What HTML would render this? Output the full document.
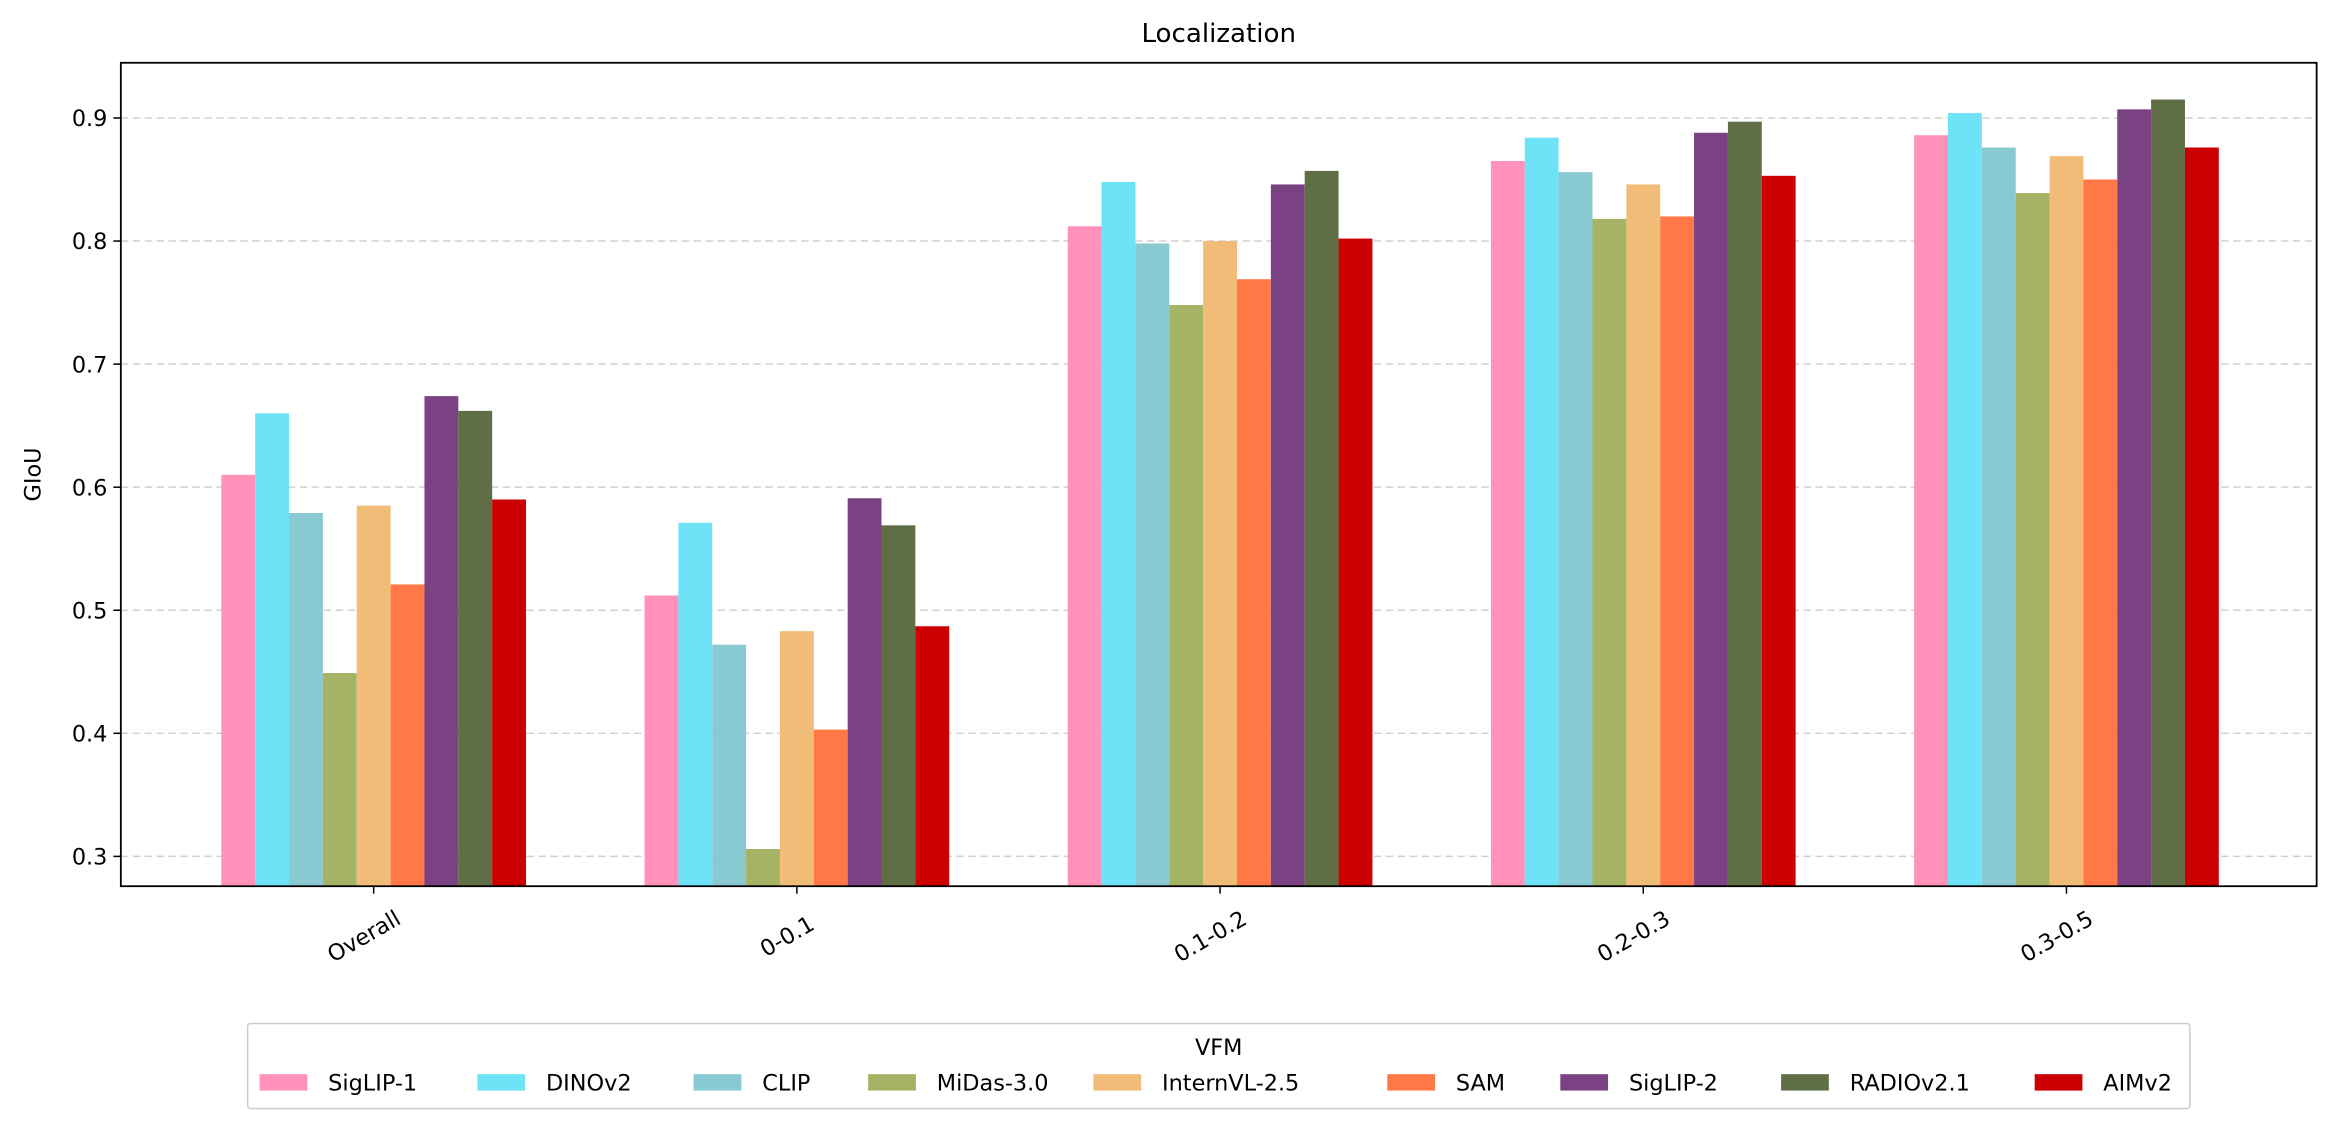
<!DOCTYPE html>
<html><head><meta charset="utf-8"><style>
html,body{margin:0;padding:0;background:#fff;}
svg{display:block;font-family:"DejaVu Sans","Liberation Sans",sans-serif;}
</style></head><body>
<svg id="chart" width="2339" height="1128" viewBox="0 0 1568 756" xmlns="http://www.w3.org/2000/svg">
<rect width="1568" height="756" fill="#fff"/>
<text x="817" y="28" font-size="17.5" text-anchor="middle">Localization</text>
<text transform="translate(27,318) rotate(-90)" font-size="15" text-anchor="middle">GIoU</text>
<g id="grid"></g><g id="bars"></g><g id="axes"></g>
<g id="legend">
<rect x="166" y="686" width="1302" height="57" fill="#fff" stroke="#ccc" stroke-width="1" rx="2"/>
<text x="817" y="707" font-size="15" text-anchor="middle">VFM</text>
</g>
</svg>
<script>
const categories=["Overall","0-0.1","0.1-0.2","0.2-0.3","0.3-0.5"];
const models=["SigLIP-1","DINOv2","CLIP","MiDas-3.0","InternVL-2.5","SAM","SigLIP-2","RADIOv2.1","AIMv2"];
const colors=["#ff91bb","#6ee2f6","#89c9d2","#a4b464","#f1bc78","#ff7845","#7b4283","#5f6e45","#cc0000"];
const siglip1=[0.610,0.512,0.812,0.865,0.886];
const dinov2=[0.660,0.571,0.848,0.884,0.904];
const clip=[0.579,0.472,0.798,0.856,0.876];
const midas=[0.449,0.306,0.748,0.818,0.839];
const internvl=[0.585,0.483,0.800,0.846,0.869];
const sam=[0.521,0.403,0.769,0.820,0.850];
const siglip2=[0.674,0.591,0.846,0.888,0.907];
const radio=[0.662,0.569,0.857,0.897,0.915];
const aimv2=[0.590,0.487,0.802,0.853,0.876];
const series=[siglip1,dinov2,clip,midas,internvl,sam,siglip2,radio,aimv2];
const yTicks=[0.3,0.4,0.5,0.6,0.7,0.8,0.9];
const legendX=[174,320,465,582,733,930,1046,1194,1364];

const NS="http://www.w3.org/2000/svg";
const L=81,R=1553,T=42,B=594;
const yScale=v=>79+(0.9-v)*825;
const gap=283.7;
const xScale=i=>250.5+i*gap;
const bw=gap*0.08;
function mk(tag,attrs,parent){const e=document.createElementNS(NS,tag);for(const k in attrs)e.setAttribute(k,attrs[k]);parent.appendChild(e);return e;}
const grid=document.getElementById('grid'),bars=document.getElementById('bars'),axes=document.getElementById('axes'),legend=document.getElementById('legend');
yTicks.forEach(t=>{
  const y=yScale(t);
  const g=mk('line',{x1:L,x2:R,y1:y,y2:y,stroke:'#d0d0d0','stroke-dasharray':'5,3','stroke-width':1},grid);
  
  
  const tk=mk('line',{x1:L-5,x2:L,y1:y,y2:y,stroke:'#000','stroke-width':1},axes);
  
  
  const lb=mk('text',{x:L-9,y:y+5.5,'font-size':15,'text-anchor':'end'},axes);
  lb.textContent=t.toFixed(1);
  
  
});
series.forEach((vals,s)=>{
  vals.forEach((v,i)=>{
    const x=xScale(i)+(s-4.5)*bw;
    const y=yScale(v);
    const r=mk('rect',{x:x,y:y,width:bw,height:B-y,fill:colors[s]},bars);
    
    
  });
});
categories.forEach((c,i)=>{
  const x=xScale(i);
  const tk=mk('line',{x1:x,x2:x,y1:B,y2:B+5,stroke:'#000','stroke-width':1},axes);
  
  
  const lb=mk('text',{transform:`translate(${x-4},${B+38}) rotate(-30)`,'font-size':15,'text-anchor':'middle'},axes);
  lb.textContent=c;
  
  
});
const frame=mk('rect',{x:L,y:T,width:R-L,height:B-T,fill:'none',stroke:'#000','stroke-width':1.2},axes);


models.forEach((m,s)=>{
  const x=legendX[s];
  const p=mk('rect',{x:x,y:720,width:32,height:11,fill:colors[s]},legend);
  
  
  const t=mk('text',{x:x+46,y:731,'font-size':15},legend);
  t.textContent=m;
  
  
});
</script>
</body></html>
